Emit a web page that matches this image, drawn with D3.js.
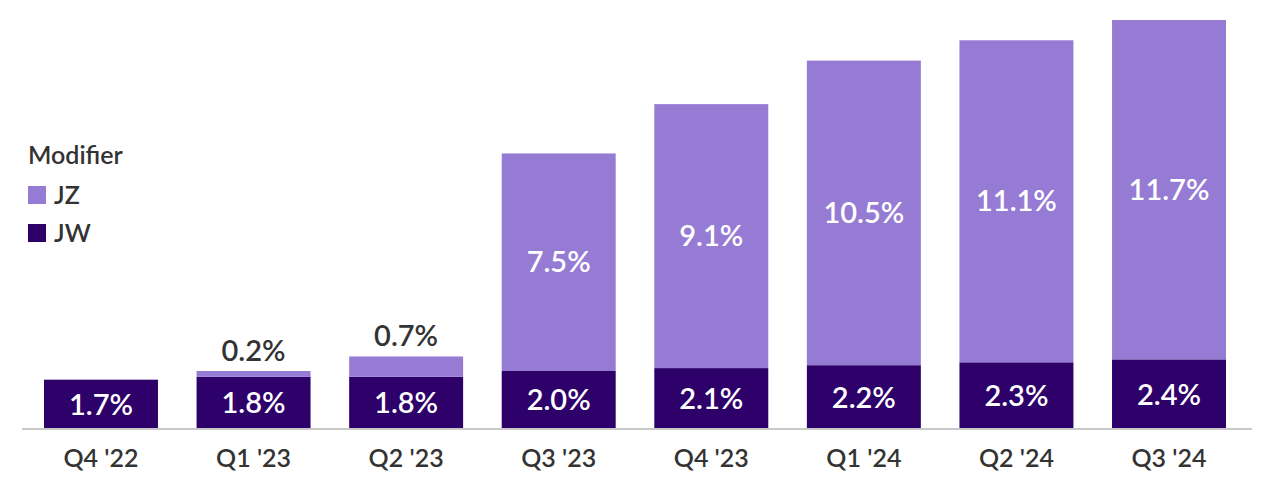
<!DOCTYPE html>
<html>
<head>
<meta charset="utf-8">
<script src="https://cdn.jsdelivr.net/npm/d3@7"></script>
<style>
body { margin: 0; background: #fff; }
text { font-family: Lato, "Open Sans", sans-serif; }
</style>
</head>
<body>
<div id="app"></div>
<script>
const quarters = ["Q4 '22", "Q1 '23", "Q2 '23", "Q3 '23", "Q4 '23", "Q1 '24", "Q2 '24", "Q3 '24"];
const jw = [1.7, 1.8, 1.8, 2.0, 2.1, 2.2, 2.3, 2.4];
const jz = [0, 0.2, 0.7, 7.5, 9.1, 10.5, 11.1, 11.7];

const width = 1266, height = 499;
const colJZ = '#967bd4', colJW = '#2e0069';

const svg = d3.select('#app').append('svg').attr('width', width).attr('height', height);

const x = d3.scaleBand().domain(quarters).range([24.7, 1245.3]).paddingInner(0.253).paddingOuter(0.1265);
const y = d3.scaleLinear().domain([0, 14.1]).range([429, 20]);

const g = svg.append('g');

// JW bars
g.selectAll('rect.jw').data(quarters).join('rect')
	.attr('x', d => x(d)).attr('width', x.bandwidth())
	.attr('y', (d, i) => y(jw[i])).attr('height', (d, i) => y(0) - y(jw[i]))
	.attr('fill', colJW);

// JZ bars stacked on top
g.selectAll('rect.jz').data(quarters.filter((d, i) => jz[i] > 0)).join('rect')
	.attr('x', d => x(d)).attr('width', x.bandwidth())
	.attr('y', d => { const i = quarters.indexOf(d); return y(jw[i] + jz[i]); })
	.attr('height', d => { const i = quarters.indexOf(d); return y(jw[i]) - y(jw[i] + jz[i]); })
	.attr('fill', colJZ);

// JW labels
g.selectAll('text.jw').data(quarters).join('text')
	.attr('x', d => x(d) + x.bandwidth() / 2)
	.attr('y', (d, i) => (y(0) + y(jw[i])) / 2)
	.attr('dy', '0.36em').attr('text-anchor', 'middle')
	.attr('fill', '#fff').attr('font-size', 29).attr('font-weight', 600)
	.text((d, i) => jw[i].toFixed(1) + '%');

// JZ labels: small ones above the bar, big ones inside
g.selectAll('text.jz').data(quarters.filter((d, i) => jz[i] > 0)).join('text')
	.attr('x', d => x(d) + x.bandwidth() / 2)
	.attr('y', d => {
		const i = quarters.indexOf(d);
		if (jz[i] < 2) return y(jw[i] + jz[i]) - 10;
		return y(jw[i] + jz[i] / 2) + 10;
	})
	.attr('text-anchor', 'middle')
	.attr('fill', d => jz[quarters.indexOf(d)] < 2 ? '#333' : '#fff')
	.attr('font-size', 29).attr('font-weight', 600)
	.text(d => jz[quarters.indexOf(d)].toFixed(1) + '%');

// axis
const axis = svg.append('g').attr('transform', 'translate(0,429)')
	.call(d3.axisBottom(x).tickSize(0).tickPadding(20));
axis.select('.domain').attr('stroke', '#c8c8c8').attr('stroke-width', 2)
	.attr('d', 'M22,0H1252');
axis.selectAll('text').attr('font-size', 25).attr('font-weight', 600).attr('fill', '#333')
	.style('font-family', 'Lato, "Open Sans", sans-serif');

// legend
const legend = svg.append('g').attr('transform', 'translate(28,0)');
legend.append('text').attr('x', 0).attr('y', 164).attr('font-size', 25).attr('font-weight', 600)
	.attr('fill', '#333').text('Modifier');
[['JZ', colJZ, 195], ['JW', colJW, 233]].forEach(([name, c, cy]) => {
	legend.append('rect').attr('x', 0).attr('y', cy - 9).attr('width', 18).attr('height', 18).attr('fill', c);
	legend.append('text').attr('x', 26).attr('y', cy).attr('dy', '0.36em').attr('font-size', 25)
		.attr('font-weight', 600).attr('fill', '#333').text(name);
});
</script>
</body>
</html>
